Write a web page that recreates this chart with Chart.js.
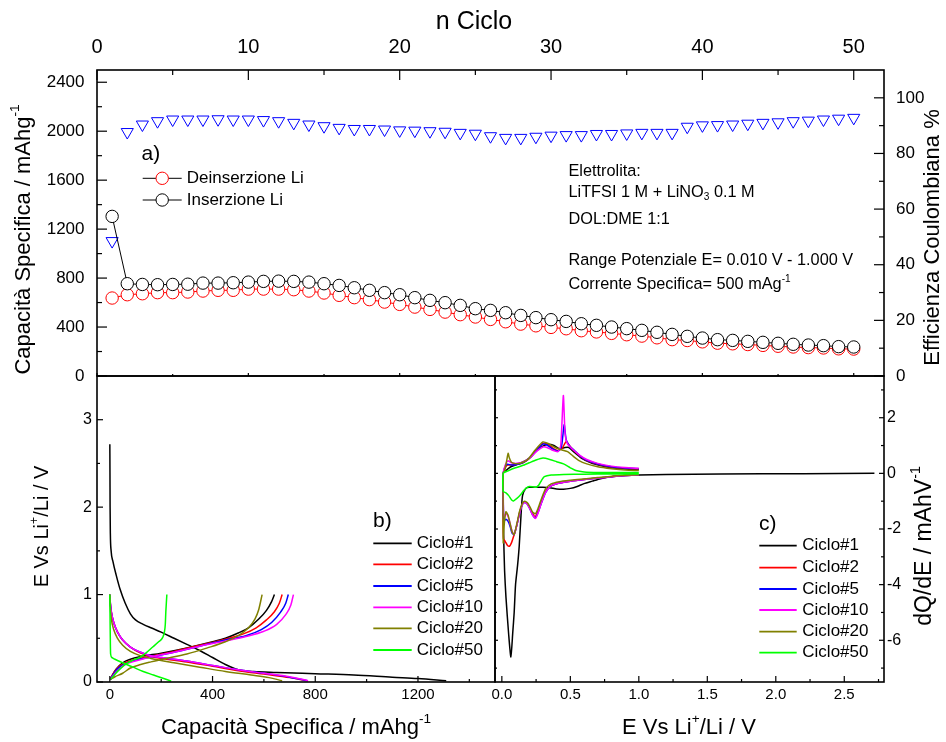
<!DOCTYPE html>
<html><head><meta charset="utf-8">
<script src="https://cdn.jsdelivr.net/npm/chart.js@4.4.1/dist/chart.umd.min.js"></script>
<style>
html,body{margin:0;padding:0;background:#fff;}
#wrap{position:relative;width:946px;height:742px;overflow:hidden;}
#wrap canvas{position:absolute;left:0;top:0;}
</style></head>
<body><div id="wrap">
<canvas id="ca" width="946" height="742"></canvas>
<canvas id="cb" width="946" height="742"></canvas>
<canvas id="cc" width="946" height="742"></canvas>
</div>
<script>
// ---------- DATA: panel a ----------
const cycles = [1,2,3,4,5,6,7,8,9,10,11,12,13,14,15,16,17,18,19,20,21,22,23,24,25,26,27,28,29,30,31,32,33,34,35,36,37,38,39,40,41,42,43,44,45,46,47,48,49,50];
const insLi = [1304,754,748,746,748,750,759,759,762,767,773,775,773,767,754,740,721,700,681,664,640,618,599,577,550,536,517,495,477,460,446,427,414,400,387,373,357,340,324,310,297,291,283,275,267,259,253,248,240,237];
const deinsLi = [637,664,672,681,681,686,694,700,700,710,710,710,705,694,678,659,640,624,604,585,563,544,522,501,482,462,443,424,410,397,386,370,360,348,337,326,312,297,290,279,268,263,257,250,243,237,232,229,222,220];
const coulEff = [48.5,87.7,90.4,91.6,92.2,92.2,92.2,92.3,92.2,92.2,92.0,91.6,91.0,90.4,89.8,89.2,88.8,88.8,88.6,88.3,88.2,88.0,87.8,87.4,87.1,86.2,85.6,85.6,86.0,86.4,86.6,86.6,87.0,87.0,87.2,87.4,87.4,87.4,89.6,90.1,90.2,90.4,90.7,91.0,91.2,91.6,91.8,92.2,92.5,92.8];

// ---------- tick values ----------
const topXTicks = [0,10,20,30,40,50];
const topXMinor = [5,15,25,35,45];
const capYTicks = [0,400,800,1200,1600,2000,2400];
const capYMinor = [200,600,1000,1400,1800,2200];
const effYTicks = [0,20,40,60,80,100];
const effYMinor = [10,30,50,70,90];
const bXTicks = [0,400,800,1200];
const bXMinor = [200,600,1000,1400];
const bYTicks = [0,1,2,3];
const bYMinor = [0.5,1.5,2.5];
const cXTicks = [0,0.5,1,1.5,2,2.5];
const cXMinor = [0.25,0.75,1.25,1.75,2.25,2.75];
const cYTicks = [-6,-4,-2,0,2];
const cYMinor = [-7,-5,-3,-1,1,3];

// ---------- DATA: panel b (capacity mAh/g, potential V) ----------
const bC1Dis = [[0,2.72],[0.5,2.4],[1,2.0],[2,1.7],[5,1.5],[12,1.38],[25,1.22],[40,1.06],[60,0.9],[80,0.78],[100,0.71],[130,0.66],[160,0.62],[200,0.57],[250,0.5],[300,0.43],[350,0.36],[400,0.28],[450,0.2],[490,0.15],[520,0.13],[560,0.12],[650,0.11],[800,0.095],[950,0.08],[1100,0.055],[1200,0.04],[1310,0.015]];
const bC1Cha = [[3,0.03],[10,0.08],[25,0.15],[50,0.22],[80,0.26],[120,0.29],[200,0.33],[300,0.39],[400,0.46],[450,0.5],[500,0.56],[540,0.62],[580,0.72],[610,0.82],[630,0.92],[641,1.0]];
const bC2Dis = [[0,1.0],[2,0.9],[6,0.8],[15,0.68],[30,0.57],[50,0.48],[80,0.4],[120,0.33],[160,0.29],[200,0.27],[300,0.23],[400,0.18],[500,0.13],[600,0.09],[700,0.05],[762,0.015]];
const bC2Cha = [[2,0.03],[10,0.08],[30,0.16],[60,0.22],[100,0.26],[150,0.29],[250,0.35],[350,0.42],[450,0.49],[520,0.55],[570,0.62],[610,0.71],[640,0.8],[660,0.9],[671,1.0]];
const bC5Dis = [[0,1.0],[2,0.9],[6,0.8],[15,0.68],[30,0.57],[50,0.48],[80,0.4],[120,0.34],[160,0.3],[200,0.28],[300,0.24],[400,0.19],[500,0.14],[600,0.1],[700,0.055],[770,0.015]];
const bC5Cha = [[2,0.03],[10,0.07],[30,0.15],[60,0.21],[100,0.25],[150,0.28],[250,0.34],[350,0.41],[450,0.48],[530,0.53],[590,0.6],[630,0.68],[665,0.8],[685,0.9],[695,1.0]];
const bC10Dis = [[0,1.0],[2,0.9],[6,0.8],[15,0.68],[30,0.57],[50,0.48],[80,0.4],[120,0.34],[160,0.3],[200,0.28],[300,0.24],[400,0.19],[500,0.14],[600,0.1],[700,0.06],[772,0.015]];
const bC10Cha = [[2,0.03],[10,0.06],[30,0.13],[60,0.2],[100,0.24],[150,0.28],[250,0.34],[350,0.41],[450,0.47],[530,0.52],[600,0.58],[650,0.66],[685,0.77],[705,0.88],[715,1.0]];
const bC20Dis = [[0,1.0],[2,0.85],[6,0.72],[15,0.6],[30,0.5],[50,0.42],[80,0.35],[120,0.3],[160,0.27],[250,0.22],[350,0.17],[450,0.12],[550,0.08],[620,0.05],[671,0.015]];
const bC20Cha = [[3,0.03],[20,0.06],[50,0.1],[80,0.16],[120,0.2],[160,0.23],[220,0.27],[300,0.32],[380,0.39],[450,0.46],[500,0.53],[540,0.62],[565,0.72],[580,0.83],[593,1.0]];
const bC50Dis = [[0,1.0],[1,0.7],[2,0.45],[3,0.32],[8,0.28],[20,0.26],[50,0.22],[90,0.17],[130,0.12],[170,0.08],[210,0.04],[239,0.01]];
const bC50Cha = [[3,0.03],[20,0.09],[40,0.15],[64,0.21],[90,0.25],[116,0.28],[140,0.33],[167,0.4],[190,0.46],[206,0.51],[213,0.58],[216,0.66],[218,0.8],[220,0.9],[222,1.0]];

// ---------- DATA: panel c (potential V, dQ/dE) ----------
const cC1 = [[2.72,0],[2.2,-0.01],[1.6,-0.02],[1.2,-0.04],[1.0,-0.06],[0.9,-0.08],[0.8,-0.12],[0.72,-0.19],[0.66,-0.28],[0.6,-0.37],[0.55,-0.47],[0.5,-0.54],[0.45,-0.57],[0.4,-0.56],[0.35,-0.52],[0.3,-0.5],[0.25,-0.5],[0.2,-0.5],[0.175,-0.54],[0.151,-0.8],[0.14,-1.5],[0.127,-2.6],[0.115,-3.3],[0.1,-4.0],[0.09,-5.0],[0.08,-5.7],[0.066,-6.6],[0.05,-5.8],[0.03,-4.45],[0.02,-3.5],[0.012,-2.0],[0.01,-0.5],
  [0.01,0],[0.03,0.1],[0.06,0.22],[0.1,0.3],[0.15,0.4],[0.2,0.55],[0.25,0.8],[0.3,0.98],[0.34,1.05],[0.38,1.0],[0.42,0.88],[0.46,0.93],[0.49,0.93],[0.53,0.75],[0.58,0.55],[0.65,0.38],[0.72,0.28],[0.8,0.2],[0.9,0.16],[1.0,0.14]];
const cC2 = [[1.0,-0.05],[0.9,-0.08],[0.8,-0.12],[0.7,-0.17],[0.6,-0.22],[0.5,-0.28],[0.42,-0.35],[0.36,-0.45],[0.32,-0.65],[0.29,-1.0],[0.265,-1.35],[0.245,-1.55],[0.225,-1.45],[0.205,-1.25],[0.185,-1.08],[0.165,-1.03],[0.15,-1.1],[0.13,-1.4],[0.11,-1.85],[0.09,-2.2],[0.07,-2.5],[0.055,-2.62],[0.04,-2.58],[0.025,-2.45],[0.012,-2.35],[0.01,-1.2],
  [0.01,0],[0.025,0.2],[0.04,0.3],[0.07,0.3],[0.11,0.33],[0.16,0.4],[0.21,0.58],[0.26,0.88],[0.3,1.08],[0.33,1.07],[0.37,0.92],[0.41,0.82],[0.44,0.9],[0.47,1.15],[0.49,1.02],[0.52,0.85],[0.57,0.62],[0.62,0.46],[0.7,0.33],[0.8,0.23],[0.9,0.18],[1.0,0.16]];
const cC5 = [[1.0,-0.05],[0.9,-0.08],[0.8,-0.12],[0.7,-0.17],[0.6,-0.22],[0.5,-0.28],[0.42,-0.35],[0.36,-0.45],[0.32,-0.68],[0.29,-1.05],[0.265,-1.4],[0.245,-1.6],[0.225,-1.5],[0.205,-1.28],[0.185,-1.1],[0.165,-1.05],[0.15,-1.12],[0.13,-1.42],[0.11,-1.85],[0.09,-2.2],[0.075,-2.15],[0.06,-1.9],[0.045,-1.72],[0.03,-1.65],[0.018,-1.7],[0.012,-1.5],[0.01,-0.8],
  [0.01,0],[0.025,0.25],[0.04,0.33],[0.07,0.3],[0.11,0.32],[0.16,0.4],[0.21,0.58],[0.26,0.86],[0.3,1.05],[0.33,1.02],[0.37,0.88],[0.41,0.8],[0.435,0.95],[0.455,1.75],[0.47,1.2],[0.5,0.95],[0.53,0.82],[0.57,0.63],[0.62,0.47],[0.7,0.34],[0.8,0.24],[0.9,0.19],[1.0,0.17]];
const cC10 = [[1.0,-0.05],[0.9,-0.08],[0.8,-0.12],[0.7,-0.17],[0.6,-0.22],[0.5,-0.28],[0.42,-0.35],[0.36,-0.45],[0.32,-0.68],[0.29,-1.05],[0.265,-1.42],[0.245,-1.62],[0.225,-1.5],[0.205,-1.28],[0.185,-1.1],[0.165,-1.05],[0.15,-1.12],[0.13,-1.42],[0.11,-1.85],[0.09,-2.2],[0.075,-2.1],[0.06,-1.8],[0.045,-1.55],[0.03,-1.45],[0.018,-1.55],[0.012,-1.4],[0.01,-0.7],
  [0.01,0],[0.025,0.3],[0.045,0.45],[0.07,0.38],[0.11,0.36],[0.16,0.42],[0.21,0.58],[0.26,0.82],[0.3,0.95],[0.33,0.93],[0.37,0.83],[0.41,0.78],[0.43,1.0],[0.449,2.8],[0.462,1.4],[0.48,1.05],[0.52,0.85],[0.57,0.65],[0.62,0.5],[0.7,0.36],[0.8,0.26],[0.9,0.21],[1.0,0.18]];
const cC20 = [[1.0,-0.05],[0.9,-0.07],[0.8,-0.1],[0.7,-0.15],[0.6,-0.2],[0.5,-0.25],[0.42,-0.3],[0.36,-0.38],[0.32,-0.55],[0.29,-0.9],[0.265,-1.25],[0.245,-1.45],[0.225,-1.4],[0.205,-1.2],[0.185,-1.05],[0.165,-1.0],[0.15,-1.08],[0.13,-1.35],[0.11,-1.8],[0.09,-2.2],[0.075,-2.1],[0.06,-1.8],[0.045,-1.5],[0.03,-1.38],[0.02,-1.7],[0.012,-2.2],[0.01,-2.5],
  [0.01,0],[0.02,0.1],[0.035,0.45],[0.046,0.72],[0.055,0.55],[0.07,0.4],[0.1,0.35],[0.14,0.37],[0.19,0.5],[0.24,0.82],[0.3,1.13],[0.34,1.07],[0.39,0.93],[0.44,0.84],[0.48,0.78],[0.52,0.62],[0.56,0.47],[0.62,0.34],[0.7,0.24],[0.8,0.17],[0.9,0.12],[1.0,0.1]];
const cC50 = [[1.0,-0.02],[0.8,-0.02],[0.6,-0.03],[0.45,-0.04],[0.36,-0.06],[0.31,-0.12],[0.29,-0.25],[0.27,-0.42],[0.25,-0.5],[0.225,-0.48],[0.2,-0.47],[0.18,-0.52],[0.16,-0.62],[0.135,-0.78],[0.11,-0.9],[0.085,-0.99],[0.07,-0.95],[0.05,-0.8],[0.03,-0.7],[0.01,-0.65],
  [0.01,0],[0.05,0.1],[0.1,0.2],[0.15,0.28],[0.2,0.38],[0.25,0.48],[0.3,0.55],[0.35,0.5],[0.4,0.42],[0.45,0.34],[0.5,0.2],[0.54,0.1],[0.6,0.05],[0.7,0.03],[0.85,0.03],[1.0,0.03]];

const cycleLabels = ['Ciclo#1','Ciclo#2','Ciclo#5','Ciclo#10','Ciclo#20','Ciclo#50'];
const cycleColors = ['#000000','#ff0000','#0000ff','#ff00ff','#808000','#00ff00'];

// ---------- helpers ----------
const FAM = "'Liberation Sans', Arial, Helvetica, sans-serif";
Chart.defaults.font.family = FAM;
Chart.defaults.color = '#000';

function pts(arr){ return arr.map(p => ({x:p[0], y:p[1]})); }
function setTicks(list){ return s => { s.ticks = list.map(v => ({value:v})); }; }
const plain = v => String(v);

function richWidth(ctx, parts, size){
  let w = 0;
  parts.forEach(p => { ctx.font = (p[1] ? size*0.62 : size) + 'px ' + FAM; w += ctx.measureText(p[0]).width; });
  return w;
}
function drawRich(ctx, it){
  const size = it.size;
  ctx.save();
  ctx.fillStyle = it.color || '#000';
  ctx.textBaseline = 'middle';
  ctx.textAlign = 'left';
  ctx.translate(it.x, it.y);
  if (it.rot) ctx.rotate(it.rot * Math.PI / 180);
  const w = richWidth(ctx, it.parts, size);
  let x = it.align === 'center' ? -w/2 : 0;
  it.parts.forEach(p => {
    const s = p[1] ? size*0.62 : size;
    ctx.font = s + 'px ' + FAM;
    const dy = p[1] === 1 ? -size*0.38 : (p[1] === -1 ? size*0.3 : 0);
    ctx.fillText(p[0], x, dy);
    x += ctx.measureText(p[0]).width;
  });
  ctx.restore();
}

const framePlugin = {
  id: 'frame',
  afterDatasetsDraw(chart, args, opts){
    const ctx = chart.ctx, a = chart.chartArea;
    ctx.save();
    ctx.strokeStyle = '#000';
    ctx.lineWidth = 1.2;
    (opts.marks || []).forEach(m => {
      const sc = chart.scales[m.scale];
      const one = (v, len) => {
        const p = sc.getPixelForValue(v);
        ctx.beginPath();
        if (m.edge === 'top' || m.edge === 'bottom') {
          if (p < a.left - 0.5 || p > a.right + 0.5) return;
          const y0 = m.edge === 'top' ? a.top : a.bottom;
          const d = m.edge === 'top' ? 1 : -1;
          ctx.moveTo(p, y0); ctx.lineTo(p, y0 + d*len);
        } else {
          if (p < a.top - 0.5 || p > a.bottom + 0.5) return;
          const x0 = m.edge === 'left' ? a.left : a.right;
          const d = m.edge === 'left' ? 1 : -1;
          ctx.moveTo(x0, p); ctx.lineTo(x0 + d*len, p);
        }
        ctx.stroke();
      };
      m.major.forEach(v => one(v, m.majorLen));
      m.minor.forEach(v => one(v, m.minorLen));
    });
    ctx.lineWidth = 1.6;
    ctx.strokeRect(a.left, a.top, a.right - a.left, a.bottom - a.top);
    ctx.restore();
  }
};

const textPlugin = {
  id: 'texts',
  afterDraw(chart, args, opts){
    const ctx = chart.ctx;
    (opts.items || []).forEach(it => drawRich(ctx, it));
    const lg = opts.legend;
    if (lg) {
      const seen = [];
      chart.data.datasets.forEach(ds => { if (ds.legend !== false && !seen.find(s => s.label === ds.label)) seen.push(ds); });
      const order = lg.order || seen.map(s => s.label);
      order.forEach((lab, i) => {
        const ds = seen.find(s => s.label === lab);
        const y = lg.ys[i];
        ctx.save();
        ctx.strokeStyle = lg.lineColor || ds.borderColor;
        ctx.lineWidth = lg.lineWidth;
        ctx.beginPath(); ctx.moveTo(lg.x1, y); ctx.lineTo(lg.x2, y); ctx.stroke();
        if (lg.marker) {
          ctx.fillStyle = '#fff';
          ctx.strokeStyle = ds.pointBorderColor;
          ctx.lineWidth = 1;
          ctx.beginPath(); ctx.arc((lg.x1 + lg.x2)/2, y, ds.pointRadius, 0, Math.PI*2); ctx.fill(); ctx.stroke();
        }
        ctx.restore();
        drawRich(ctx, {parts:[[lab,0]], x:lg.tx, y:y, size:lg.size});
      });
    }
  }
};
Chart.register(framePlugin, textPlugin);

const base = {responsive:false, animation:false, devicePixelRatio:1, events:[]};
const noGrid = {display:false, drawTicks:false};

// ---------- Chart a ----------
new Chart(document.getElementById('ca'), {
  type:'scatter',
  data:{datasets:[
    {label:'Inserzione Li', data:cycles.map((c,i)=>({x:c,y:insLi[i]})), xAxisID:'x', yAxisID:'y', showLine:true, borderColor:'#000', borderWidth:1,
     pointRadius:6.2, pointBorderWidth:1, pointBorderColor:'#000', pointBackgroundColor:'#fff', order:0},
    {label:'Deinserzione Li', data:cycles.map((c,i)=>({x:c,y:deinsLi[i]})), xAxisID:'x', yAxisID:'y', showLine:true, borderColor:'#ff0000', borderWidth:1,
     pointRadius:6.2, pointBorderWidth:1, pointBorderColor:'#ff0000', pointBackgroundColor:'#fff', order:1},
    {label:'Efficienza Coulombiana', legend:false, data:cycles.map((c,i)=>({x:c,y:coulEff[i]})), xAxisID:'x', yAxisID:'y2', showLine:false,
     pointStyle:'triangle', rotation:180, pointRadius:7, pointBorderWidth:1, pointBorderColor:'#0000ff', pointBackgroundColor:'#fff', order:2}
  ]},
  options:Object.assign({}, base, {
    layout:{padding:{left:0,right:0,top:0,bottom:366}},
    plugins:{legend:{display:false}, tooltip:{enabled:false},
      frame:{marks:[
        {scale:'x', edge:'top', major:topXTicks, minor:topXMinor, majorLen:10, minorLen:5},
        {scale:'x', edge:'bottom', major:topXTicks, minor:topXMinor, majorLen:3, minorLen:2},
        {scale:'y', edge:'left', major:capYTicks, minor:capYMinor, majorLen:10, minorLen:5},
        {scale:'y2', edge:'right', major:effYTicks, minor:effYMinor, majorLen:10, minorLen:5}
      ]},
      texts:{
        items:[
          {parts:[['n Ciclo',0]], x:474, y:22, size:25, align:'center'},
          {parts:[['Capacità Specifica / mAhg',0],['-1',1]], x:24, y:239.5, size:22, align:'center', rot:-90},
          {parts:[['Efficienza Coulombiana %',0]], x:933, y:237.5, size:22, align:'center', rot:-90},
          {parts:[['a)',0]], x:141.5, y:154, size:21},
          {parts:[['Elettrolita:',0]], x:568.5, y:171.7, size:16.3},
          {parts:[['LiTFSI 1 M + LiNO',0],['3',-1],[' 0.1 M',0]], x:568.5, y:192.7, size:16.3},
          {parts:[['DOL:DME 1:1',0]], x:568.5, y:219.3, size:16.3},
          {parts:[['Range Potenziale E= 0.010 V - 1.000 V',0]], x:568.5, y:261, size:16.3},
          {parts:[['Corrente Specifica= 500 mAg',0],['-1',1]], x:568.5, y:285, size:16.3}
        ],
        legend:{x1:142.7, x2:181.7, tx:186.7, ys:[178.3,200], size:17, lineWidth:1, lineColor:'#000', marker:true, order:['Deinserzione Li','Inserzione Li']}
      }
    },
    scales:{
      x:{type:'linear', position:'top', min:0, max:52, afterBuildTicks:setTicks(topXTicks), afterFit:s=>{s.height=70;},
         grid:noGrid, border:{display:false}, ticks:{padding:11, font:{size:20}, color:'#000', callback:plain}},
      y:{type:'linear', position:'left', min:0, max:2500, afterBuildTicks:setTicks(capYTicks), afterFit:s=>{s.width=97;},
         grid:noGrid, border:{display:false}, ticks:{padding:12.5, font:{size:17}, color:'#000', callback:plain}},
      y2:{type:'linear', position:'right', min:0, max:110, afterBuildTicks:setTicks(effYTicks), afterFit:s=>{s.width=62;},
         grid:noGrid, border:{display:false}, ticks:{padding:12, font:{size:17}, color:'#000', callback:plain}}
    }
  })
});

// ---------- Chart b ----------
const bPairs = [[bC1Dis,bC1Cha],[bC2Dis,bC2Cha],[bC5Dis,bC5Cha],[bC10Dis,bC10Cha],[bC20Dis,bC20Cha],[bC50Dis,bC50Cha]];
const bSets = [];
bPairs.forEach((pr, i) => pr.forEach(arr => bSets.push({
  label:cycleLabels[i], data:pts(arr), showLine:true, borderColor:cycleColors[i], borderWidth:1.5,
  pointRadius:0, cubicInterpolationMode:'monotone', order:6-i
})));
new Chart(document.getElementById('cb'), {
  type:'scatter',
  data:{datasets:bSets},
  options:Object.assign({}, base, {
    layout:{padding:{left:0,right:451,top:376,bottom:0}},
    plugins:{legend:{display:false}, tooltip:{enabled:false},
      frame:{marks:[
        {scale:'x', edge:'bottom', major:bXTicks, minor:bXMinor, majorLen:6, minorLen:3},
        {scale:'y', edge:'left', major:bYTicks, minor:bYMinor, majorLen:6, minorLen:3}
      ]},
      texts:{
        items:[
          {parts:[['E Vs Li',0],['+',1],['/Li / V',0]], x:42.5, y:526.5, size:20, align:'center', rot:-90},
          {parts:[['Capacità Specifica / mAhg',0],['-1',1]], x:296, y:728, size:22, align:'center'},
          {parts:[['b)',0]], x:373, y:521.7, size:21}
        ],
        legend:{x1:373.3, x2:411.7, tx:416.7, ys:[543.3,564.3,586,607.3,628.3,650], size:17, lineWidth:1.8, order:cycleLabels}
      }
    },
    scales:{
      x:{type:'linear', position:'bottom', min:-50, max:1500, afterBuildTicks:setTicks(bXTicks), afterFit:s=>{s.height=60;},
         grid:noGrid, border:{display:false}, ticks:{padding:4, font:{size:15}, color:'#000', callback:plain}},
      y:{type:'linear', position:'left', min:0, max:3.5, afterBuildTicks:setTicks(bYTicks), afterFit:s=>{s.width=97;},
         grid:noGrid, border:{display:false}, ticks:{padding:5, font:{size:16}, color:'#000', callback:plain}}
    }
  })
});

// ---------- Chart c ----------
const cArrs = [cC1,cC2,cC5,cC10,cC20,cC50];
const cSets = cArrs.map((arr, i) => ({
  label:cycleLabels[i], data:pts(arr), showLine:true, borderColor:cycleColors[i], borderWidth:1.5,
  pointRadius:0, tension:0.2, order:6-i
}));
new Chart(document.getElementById('cc'), {
  type:'scatter',
  data:{datasets:cSets},
  options:Object.assign({}, base, {
    layout:{padding:{left:495,right:0,top:376,bottom:0}},
    plugins:{legend:{display:false}, tooltip:{enabled:false},
      frame:{marks:[
        {scale:'x', edge:'bottom', major:cXTicks, minor:cXMinor, majorLen:6, minorLen:3},
        {scale:'y', edge:'right', major:cYTicks, minor:cYMinor, majorLen:5, minorLen:3},
        {scale:'y', edge:'left', major:cYTicks, minor:cYMinor, majorLen:3, minorLen:2}
      ]},
      texts:{
        items:[
          {parts:[['dQ/dE / mAhV',0],['-1',1]], x:925, y:546, size:23, align:'center', rot:-90},
          {parts:[['E Vs Li',0],['+',1],['/Li / V',0]], x:689, y:728, size:22, align:'center'},
          {parts:[['c)',0]], x:759, y:524, size:21}
        ],
        legend:{x1:759.3, x2:796.7, tx:802.3, ys:[545.7,567.7,589,610,631.7,652.7], size:17, lineWidth:1.8, order:cycleLabels}
      }
    },
    scales:{
      x:{type:'linear', position:'bottom', min:-0.05, max:2.79, afterBuildTicks:setTicks(cXTicks), afterFit:s=>{s.height=60;},
         grid:noGrid, border:{display:false}, ticks:{padding:4, font:{size:15}, color:'#000', callback:v=>v.toFixed(1)}},
      y:{type:'linear', position:'right', min:-7.5, max:3.5, afterBuildTicks:setTicks(cYTicks), afterFit:s=>{s.width=62;},
         grid:noGrid, border:{display:false}, ticks:{padding:3, font:{size:16}, color:'#000', callback:plain}}
    }
  })
});
</script>
</body></html>
